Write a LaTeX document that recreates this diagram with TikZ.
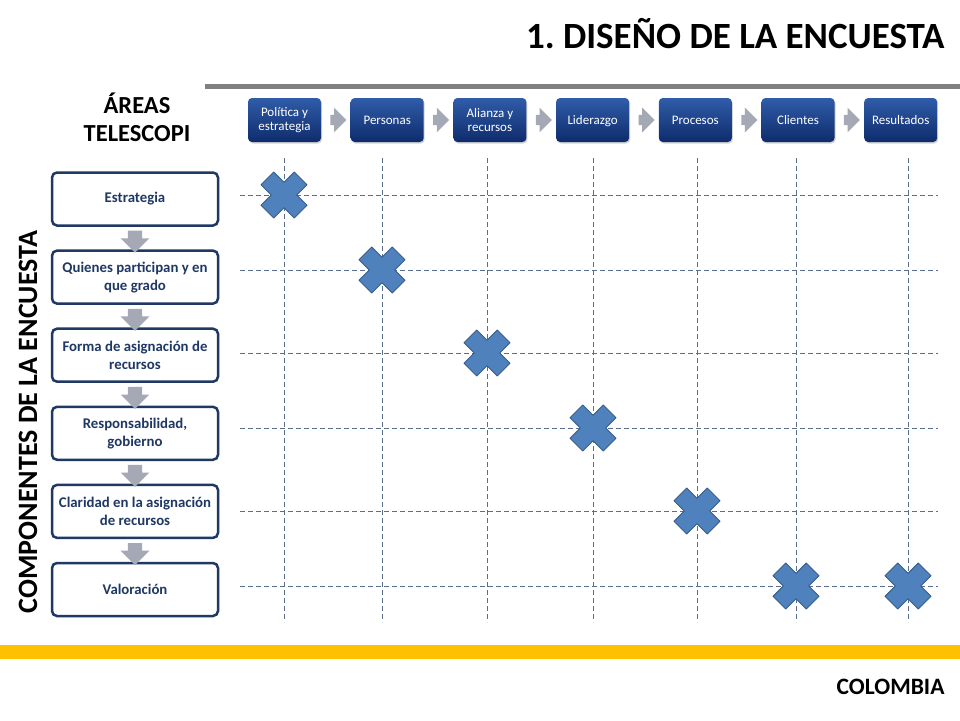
\documentclass[tikz,border=0pt]{standalone}
\usepackage{fontspec}
\setmainfont{Carlito}
\usepackage{tikz}
\usetikzlibrary{shapes,arrows,positioning,calc,shadows}
\usepackage{xcolor}
\definecolor{navy}{RGB}{31,56,100}
\definecolor{areatop}{RGB}{48,92,168}
\definecolor{areabot}{RGB}{14,44,108}
\definecolor{arrowgray}{RGB}{165,169,182}
\definecolor{gridblue}{RGB}{90,110,140}
\definecolor{xfill}{RGB}{79,129,189}
\definecolor{xdraw}{RGB}{56,93,138}
\definecolor{rulegray}{RGB}{128,128,128}
\definecolor{bandyellow}{RGB}{255,192,0}
\tikzset{
    area/.style={rectangle, top color=areatop, bottom color=areabot, text=white, align=center, rounded corners=4pt, minimum width=73pt, minimum height=44pt, inner sep=1pt, font=\fontsize{13}{13.5}\selectfont, drop shadow={shadow xshift=1pt, shadow yshift=-1.5pt, opacity=0.35}},
    component/.style={rectangle, draw=navy, fill=white, text=navy, align=center, rounded corners=5pt, minimum width=166pt, minimum height=53pt, line width=2.5pt, font=\bfseries\fontsize{14.8}{18}\selectfont},
    harrow/.style={single arrow, fill=arrowgray, minimum height=16pt, minimum width=17pt, inner sep=5pt},
    varrow/.style={single arrow, fill=arrowgray, minimum height=22pt, minimum width=24pt, inner sep=7pt, shape border rotate=270},
    gridline/.style={draw=gridblue, line width=0.8pt, dash pattern=on 5pt off 3pt},
    heading/.style={font=\bfseries\fontsize{24.5}{28}\selectfont, align=center},
    pics/crossmark/.style={code={
        \draw[fill=xfill, draw=xdraw, line width=1pt, line join=round, rotate=45]
            (-9,23.5) -- (9,23.5) -- (9,9) -- (23.5,9) -- (23.5,-9) -- (9,-9) -- (9,-23.5)
            -- (-9,-23.5) -- (-9,-9) -- (-23.5,-9) -- (-23.5,9) -- (-9,9) -- cycle;
    }}
}
\frenchspacing

\begin{document}
\begin{tikzpicture}[x=1pt, y=1pt, node distance=102.7pt]
    \useasboundingbox (0,0) rectangle (960,-720);
    \fill[white] (0,0) rectangle (960,-720);

    % header and footer
    \node [anchor=base east, font=\bfseries\fontsize{37}{40}\selectfont] (title) at (948,-48) {1. DISEÑO DE LA ENCUESTA};
    \fill [rulegray] (205,-84) rectangle (960,-89);
    \fill [bandyellow] (0,-645) rectangle (960,-659);
    \node [anchor=base east, font=\bfseries\fontsize{23.5}{26}\selectfont] (country) at (948,-694) {COLOMBIA};

    \node [heading] (areas) at (137,-117) {ÁREAS\\TELESCOPI};
    \node [heading, rotate=90, font=\bfseries\fontsize{28}{30}\selectfont] (comp) at (28,-422) {COMPONENTES DE LA ENCUESTA};

    % areas
    \node [area] (politica) at (284.5,-120) {Política y\\estrategia};
    \node [area, right of=politica] (personas) {Personas};
    \node [area, right of=personas] (alianza) {Alianza y\\recursos};
    \node [area, right of=alianza, text depth=0pt] (liderazgo) {Liderazgo};
    \node [area, right of=liderazgo] (procesos) {Procesos};
    \node [area, right of=procesos] (clientes) {Clientes};
    \node [area, right of=clientes] (resultados) {Resultados};

    \node [harrow] at ($(politica)!0.5!(personas)$) (h1) {};
    \node [harrow] at ($(personas)!0.5!(alianza)$) (h2) {};
    \node [harrow] at ($(alianza)!0.5!(liderazgo)$) (h3) {};
    \node [harrow] at ($(liderazgo)!0.5!(procesos)$) (h4) {};
    \node [harrow] at ($(procesos)!0.5!(clientes)$) (h5) {};
    \node [harrow] at ($(clientes)!0.5!(resultados)$) (h6) {};

    % components
    \node [component] (estrategia) at (135,-199) {Estrategia};
    \node [component, below of=estrategia, node distance=78.1pt] (quienes) {Quienes participan y en\\que grado};
    \node [component, below of=quienes, node distance=78.1pt] (forma) {Forma de asignación de\\recursos};
    \node [component, below of=forma, node distance=78.1pt] (respons) {Responsabilidad,\\gobierno};
    \node [component, below of=respons, node distance=78.1pt] (claridad) {Claridad en la asignación\\de recursos};
    \node [component, below of=claridad, node distance=78.1pt] (valoracion) {Valoración};

    \node [varrow] at ($(estrategia.south)!0.5!(quienes.north)$) (v1) {};
    \node [varrow] at ($(quienes.south)!0.5!(forma.north)$) (v2) {};
    \node [varrow] at ($(forma.south)!0.5!(respons.north)$) (v3) {};
    \node [varrow] at ($(respons.south)!0.5!(claridad.north)$) (v4) {};
    \node [varrow] at ($(claridad.south)!0.5!(valoracion.north)$) (v5) {};

    % grid
    \foreach \x in {284,382,487,593,697,796,908}
        \path [gridline] (\x,-158) -- (\x,-622);
    \foreach \y in {195,270,353,428,511,586}
        \path [gridline] (240,-\y) -- (938,-\y);

    \foreach \x/\y in {284/195,382/270,487/353,593/428,697/511,796/586,908/586}
        \pic at (\x,-\y) {crossmark};
\end{tikzpicture}
\end{document}
